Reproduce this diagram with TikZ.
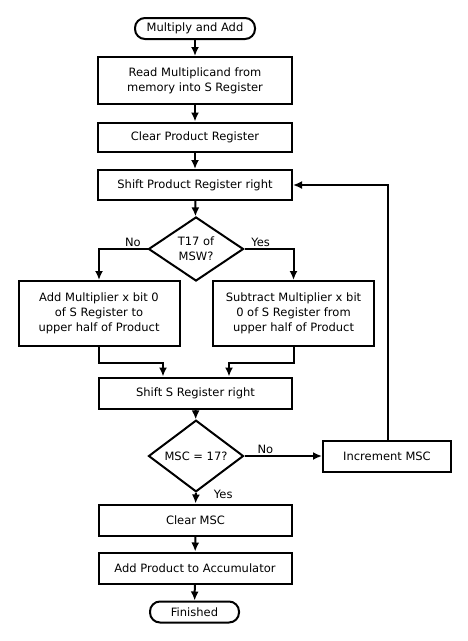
\documentclass[tikz,border=0pt]{standalone}
\usepackage{fontspec}
\setmainfont{DejaVu Sans}
\usetikzlibrary{shapes, arrows, arrows.meta, calc, positioning}
\tikzstyle{line} = [draw, line width=2pt, -{Latex[length=9pt, width=8pt]}]
\tikzstyle{block} = [rectangle, draw, line width=2pt, text centered, align=center, minimum width=194pt, minimum height=31pt, inner sep=2pt]
\tikzstyle{term} = [rectangle, draw, line width=2pt, text centered, rounded corners=10pt, minimum height=21pt, inner sep=2pt]
\tikzstyle{decision} = [diamond, draw, line width=2pt, text centered, align=center, minimum width=95pt, minimum height=64pt, inner sep=0pt]
\tikzstyle{answer} = [inner sep=1pt]

\begin{document}
\begin{tikzpicture}[x=1pt, y=-1pt, font=\fontsize{11.5}{15}\selectfont]
\useasboundingbox (0,0) rectangle (468,641);
\node [term, minimum width=120pt] (start) at (195,28.5) {Multiply and Add};
\node [block, minimum height=47pt] (read) at (195,80.5) {Read Multiplicand from\\ memory into S Register};
\node [block, minimum height=29pt] (clearp) at (195,137) {Clear Product Register};
\node [block, minimum height=30pt] (shiftp) at (195,185) {Shift Product Register right};
\node [decision] (t17) at (196,249) {T17 of\\ MSW?};
\node [block, minimum width=161pt, minimum height=65pt] (add) at (99,313.5) {Add Multiplier x bit 0\\ of S Register to\\ upper half of Product};
\node [block, minimum width=161pt, minimum height=65pt] (sub) at (293.5,313.5) {Subtract Multiplier x bit\\ 0 of S Register from\\ upper half of Product};
\node [block, minimum width=193pt] (shifts) at (195.5,393) {Shift S Register right};
\node [decision] (msc) at (196,456) {MSC = 17?};
\node [block, minimum width=128pt] (inc) at (387,456) {Increment MSC};
\node [block, minimum width=193pt] (clearm) at (195.5,520) {Clear MSC};
\node [block, minimum width=193pt] (addacc) at (195,568) {Add Product to Accumulator};
\node [term, minimum width=89pt] (fin) at (194.5,612) {Finished};
\path [line] (start) -- (read);
\path [line] (read) -- (clearp);
\path [line] (clearp) -- (shiftp);
\path [line] (shiftp) -- (t17);
\path [line] (t17.west) -| node [answer, pos=0.05, above left] {No} (add.north);
\path [line] (t17.east) -| node [answer, pos=0.05, above right] {Yes} (sub.north);
\path [line] (add.south) -- ++(0,16) -| ([xshift=-32.5pt]shifts.north);
\path [line] (sub.south) -- ++(0,16) -| ([xshift=33.5pt]shifts.north);
\path [line] (shifts) -- (msc);
\path [line] (msc.east) -- node [answer, pos=0.27, above] {No} (inc.west);
\path [line] (msc.south) -- node [answer, pos=0.1, right=16pt] {Yes} (clearm.north);
\path [line] ([xshift=1pt]inc.north) |- (shiftp.east);
\path [line] (clearm) -- (addacc);
\path [line] (addacc) -- (fin);
\end{tikzpicture}
\end{document}
